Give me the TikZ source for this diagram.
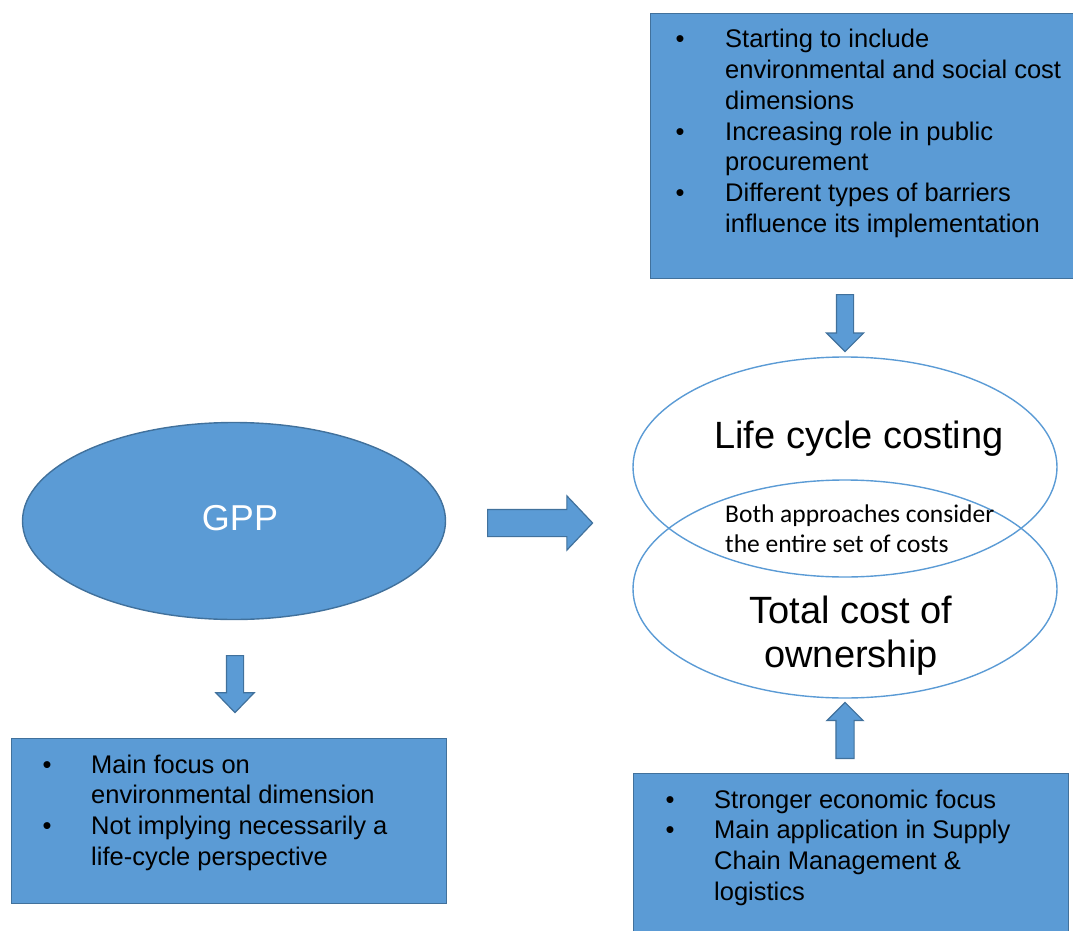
\documentclass[tikz,border=0pt]{standalone}
\usepackage{fontspec}
\setmainfont{Liberation Sans}
\newfontfamily\calibri{Carlito}
\usepackage{xcolor}
\usetikzlibrary{shapes.geometric, shapes.arrows}

\definecolor{fillblue}{HTML}{5B9BD5}
\definecolor{edgeblue}{HTML}{41719C}

\begin{document}
\begin{tikzpicture}[x=1pt, y=-1pt,
  box/.style={draw=edgeblue, fill=fillblue, line width=1.3pt, anchor=north west, inner sep=0pt},
  oval/.style={ellipse, draw=fillblue, line width=1.4pt, inner sep=0pt},
  blockarrow/.style={single arrow, draw=edgeblue, fill=fillblue, line width=1.2pt,
    inner xsep=0pt, minimum width=0pt, single arrow head indent=0pt, anchor=tail},
  bullets/.style={anchor=base west, inner sep=0pt, font=\fontsize{25.5}{30.7}\selectfont},
  title/.style={anchor=base, inner sep=0pt, font=\fontsize{38}{44}\selectfont}]

\useasboundingbox (0,0) rectangle (1073,931);

% Ovals
\node[oval, fill=fillblue, draw=edgeblue, minimum width=423pt, minimum height=197pt] (gpp) at (234,521) {};
\node[oval, minimum width=424pt, minimum height=220pt] (lcc) at (845,467) {};
\node[oval, minimum width=424pt, minimum height=218pt] (tco) at (845,589) {};

\node[anchor=base, inner sep=0pt, text=white, font=\fontsize{36}{40}\selectfont] (gpplabel) at (240,530) {GPP};
\node[title] (lcclabel) at (859,448) {Life cycle costing};
\node[title] (tcolabel) at (851,623) {\begin{tabular}[t]{@{}c@{}}Total cost of\\ownership\end{tabular}};
\node[anchor=base west, inner sep=0pt, font=\calibri\fontsize{25.5}{30}\selectfont] (both) at (725,522)
  {\begin{tabular}[t]{@{}l@{}}Both approaches consider\\the entire set of costs\end{tabular}};

% Boxes
\node[box, minimum width=424pt, minimum height=265pt] (lccbox) at (650,13) {};
\node[box, minimum width=435pt, minimum height=165pt] (gppbox) at (11,738) {};
\node[box, minimum width=435pt, minimum height=190pt] (tcobox) at (633,773) {};

\node[bullets] (lcctext) at (675.5,48) {%
  \begin{tabular}[t]{@{}p{49.5pt}@{}l@{}}
  \textbullet & Starting to include\\
   & environmental and social cost\\
   & dimensions\\
  \textbullet & Increasing role in public\\
   & procurement\\
  \textbullet & Different types of barriers\\
   & influence its implementation
  \end{tabular}};
\node[bullets] (gpptext) at (42.5,773) {%
  \begin{tabular}[t]{@{}p{48.5pt}@{}l@{}}
  \textbullet & Main focus on\\
   & environmental dimension\\
  \textbullet & Not implying necessarily a\\
   & life-cycle perspective
  \end{tabular}};
\node[bullets] (tcotext) at (665.5,808) {%
  \begin{tabular}[t]{@{}p{48.5pt}@{}l@{}}
  \textbullet & Stronger economic focus\\
  \textbullet & Main application in Supply\\
   & Chain Management \&\\
   & logistics
  \end{tabular}};

% Arrows
\node[blockarrow, minimum height=105pt, inner ysep=13pt, single arrow head extend=13.5pt,
  single arrow tip angle=93] (toright) at (487,523) {};
\node[blockarrow, rotate=-90, minimum height=57pt, inner ysep=8pt, single arrow head extend=10.5pt,
  single arrow tip angle=88] (gppdown) at (235,655) {};
\node[blockarrow, rotate=-90, minimum height=57pt, inner ysep=8pt, single arrow head extend=10pt] (lccdown) at (845,294) {};
\node[blockarrow, rotate=90, minimum height=56pt, inner ysep=8.5pt, single arrow head extend=9pt] (tcoup) at (845,759) {};
\end{tikzpicture}
\end{document}
